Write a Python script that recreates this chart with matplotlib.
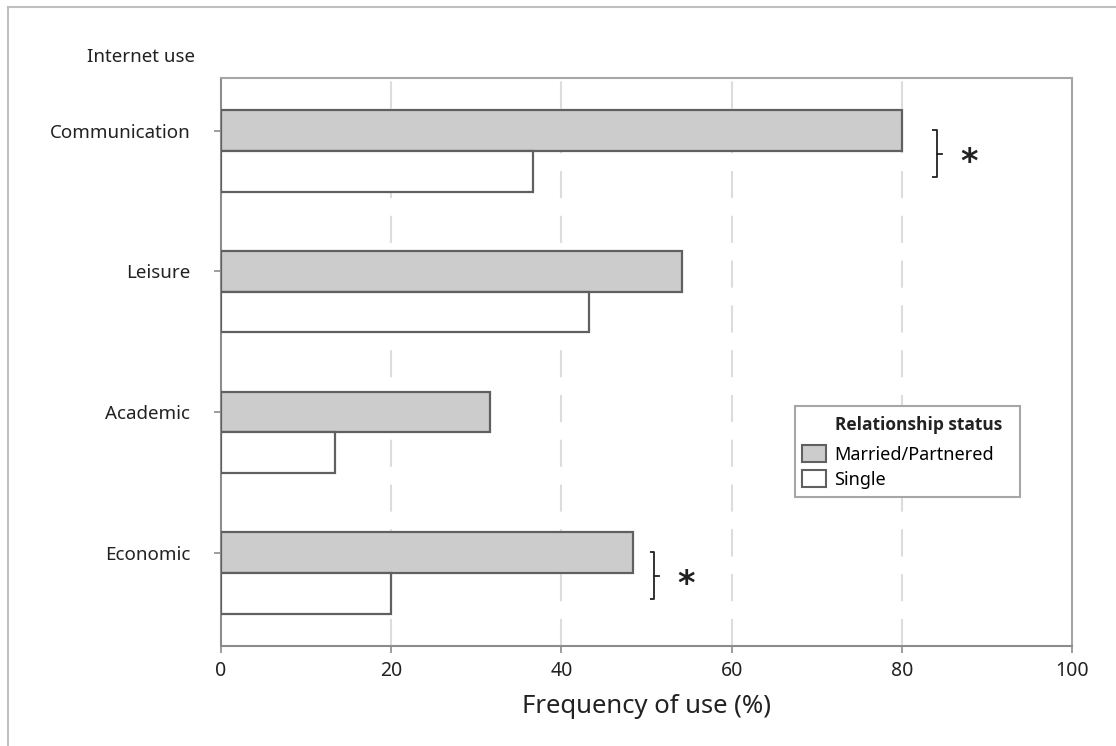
import matplotlib
matplotlib.use("Agg")
import matplotlib.pyplot as plt
from matplotlib.lines import Line2D
from matplotlib.patches import Patch, Rectangle
import numpy as np

plt.rcParams['font.family'] = ['Noto Sans', 'DejaVu Sans']

categories = ["Communication", "Leisure", "Academic", "Economic"]
married = [80.0, 54.2, 31.6, 48.4]
single = [36.7, 43.2, 13.4, 20.0]
significant = [True, False, False, True]
xticks = [0, 20, 40, 60, 80, 100]

W, H = 1116, 746
fig = plt.figure(figsize=(W/100, H/100), dpi=100)
ax_l, ax_r, ax_t, ax_b = 221, 1072, 78, 646
ax = fig.add_axes([ax_l/W, 1-ax_b/H, (ax_r-ax_l)/W, (ax_b-ax_t)/H])

n = len(categories)
ypos = np.arange(n)[::-1].astype(float)
h = 0.29
edge = '#606060'
ax.barh(ypos + h/2, married, height=h, color='#cccccc', edgecolor=edge, linewidth=1.6, zorder=3)
ax.barh(ypos - h/2, single, height=h, color='white', edgecolor=edge, linewidth=1.6, zorder=3)

ax.set_xlim(0, 100)
ax.set_ylim(-0.52, n - 1 + 0.52)
ax.set_xticks(xticks)
ax.set_xticklabels([str(t) for t in xticks], fontsize=14, color='#222222')
ax.set_yticks(ypos + h/2)
ax.set_yticklabels(categories, fontsize=13.5, color='#222222')
for t in xticks[1:-1]:
    ax.axvline(t, color='#dcdcdc', linestyle=(0, (13, 8.5)), linewidth=1.5, zorder=1)

for s in ax.spines.values():
    s.set_color('#a6a6a6')
    s.set_linewidth(1.5)
ax.spines['left'].set_color('#8c8c8c')
ax.spines['bottom'].set_color('#8c8c8c')
ax.tick_params(axis='x', direction='out', length=5, width=1.2, color='#8c8c8c', pad=6)
ax.tick_params(axis='y', direction='out', length=5, width=1.2, color='#8c8c8c', pad=17)

ax.set_xlabel("Frequency of use (%)", fontsize=18.5, color='#222222', labelpad=9)

# Significance brackets
bracket_offset = {0: 4.1, 3: 2.5}
for i, sig in enumerate(significant):
    if not sig:
        continue
    yc = ypos[i] - 0.02
    xv = max(married[i], single[i]) + bracket_offset[i]
    top, bot = yc + 0.167, yc - 0.167
    ax.plot([xv - 0.5, xv, xv, xv - 0.5], [top, top, bot, bot], color='#222222', lw=1.3, zorder=4, solid_capstyle='butt')
    ax.plot([xv, xv + 0.6], [yc, yc], color='#222222', lw=1.3, zorder=4)
    fs = 24
    ax.annotate("*", xy=(xv + 3.8, ypos[i] - 0.06), xytext=(0, -0.38 * fs), textcoords='offset points',
                fontsize=fs, ha='center', va='baseline', color='#222222',
                family='DejaVu Sans', fontweight='bold')

# Header
fig.text(195/W, 1-57/H, "Internet use", fontsize=13.5, ha='right', va='center', color='#222222')

# Legend box
def axfrac(px, py):
    return (px - ax_l) / (ax_r - ax_l), (ax_b - py) / (ax_b - ax_t)
bx0, by0 = axfrac(795, 497)
bx1, by1 = axfrac(1020, 406)
ax.add_patch(Rectangle((bx0, by0), bx1 - bx0, by1 - by0, transform=ax.transAxes,
                       facecolor='white', edgecolor='#a6a6a6', linewidth=1.5, zorder=5))
tx, ty = axfrac(835, 425)
ax.text(tx, ty, 'Relationship status', transform=ax.transAxes, ha='left', va='center',
        family=['Open Sans', 'DejaVu Sans'], fontweight='bold', fontsize=12.5,
        color='#222222', zorder=6)
handles = [Patch(facecolor='#cccccc', edgecolor=edge, linewidth=1.5, label='Married/Partnered'),
           Patch(facecolor='white', edgecolor=edge, linewidth=1.5, label='Single')]
leg = ax.legend(handles=handles, loc='upper left',
                bbox_to_anchor=axfrac(802, 445), fontsize=13,
                frameon=False, borderpad=0, borderaxespad=0,
                handlelength=1.33, handleheight=1.1, handletextpad=0.45, labelspacing=0.33)
leg.set_zorder(6)

# Figure frame (left and top)
fig.add_artist(Line2D([8/W, 8/W], [0, 1-7/H], color='#bfbfbf', lw=1.5))
fig.add_artist(Line2D([8/W, 1], [1-7/H, 1-7/H], color='#bfbfbf', lw=1.5))

fig.savefig("out.png", dpi=100)
